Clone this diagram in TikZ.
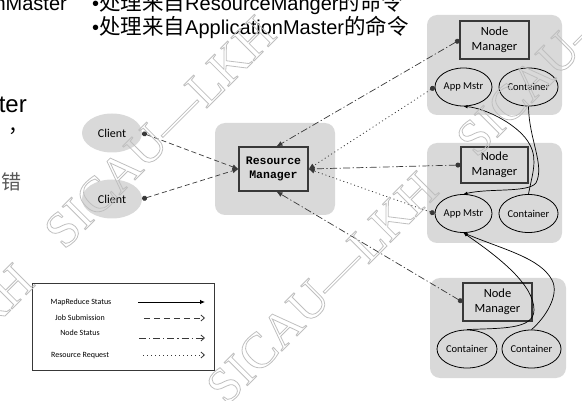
\documentclass[tikz,border=0pt]{standalone}
\usepackage{fontspec}
\setmainfont{Liberation Sans}
\newfontfamily\cjk{Noto Sans CJK SC}
\newfontfamily\calfont{Carlito}
\newfontfamily\rmmono{Liberation Mono}
\newfontfamily\wmfont{Liberation Serif}
\usetikzlibrary{arrows.meta,shapes.geometric}
\definecolor{panelgray}{HTML}{D9D9D9}
\definecolor{linegray}{HTML}{383838}
\newcommand\outlinetext[1]{\special{pdf:literal direct 1 Tr 0.8 w}#1\special{pdf:literal direct 0 Tr}}
\begin{document}
\begin{tikzpicture}[x=1pt,y=-1pt,
  panel/.style={fill=panelgray, rounded corners=10pt, inner sep=0},
  box/.style={draw=linegray, line width=1.1pt, fill=panelgray, inner sep=0},
  oval/.style={ellipse, draw=black, line width=0.8pt, fill=panelgray, inner sep=0, minimum width=57pt, minimum height=38pt, font=\calfont\fontsize{10.5}{12}\selectfont},
  client/.style={ellipse, fill=panelgray, inner sep=0, minimum width=60pt, minimum height=39pt, font=\calfont\fontsize{12}{14}\selectfont},
  nmtext/.style={font=\calfont\fontsize{12.5}{15}\selectfont, align=center},
  jobsub/.style={draw=linegray, line width=0.7pt, dash pattern=on 5pt off 3pt, {Circle[length=5pt]}-{Latex[length=6pt,width=5pt]}},
  nodestat/.style={draw=linegray, line width=0.7pt, dash pattern=on 7pt off 2.5pt on 1.2pt off 2.5pt, {Circle[length=5pt]}-{Latex[length=6pt,width=5pt]}},
  resreq/.style={draw=linegray, line width=0.8pt, dash pattern=on 1pt off 2.8pt, {Circle[length=5pt]}-{Latex[length=6pt,width=5pt]}},
  mrstat/.style={draw=black, line width=0.7pt, -{Latex[length=4pt,width=3.5pt]}},
  lgtext/.style={font=\calfont\fontsize{8}{9}\selectfont, inner sep=0},
  open/.style={-{Straight Barb[length=3.5pt,width=6pt]}},
  wm/.style={rotate=45, font=\wmfont\fontsize{50}{50}\selectfont, text=black!25, inner sep=0}
]
\useasboundingbox (0,0) rectangle (582,401);

% slide text
\node[anchor=base east, inner sep=0, font=\fontsize{20}{24}\selectfont] (t0) at (67,10.5) {nMaster};
\node[anchor=base west, inner sep=0, font=\fontsize{20}{24}\selectfont] (t1) at (92,10.5) {•{\cjk\fontsize{21.5}{24}\selectfont 处理来自}ResourceManger{\cjk\fontsize{21.5}{24}\selectfont 的命令}};
\node[anchor=base west, inner sep=0, font=\fontsize{20}{24}\selectfont] (t2) at (92,34.5) {•{\cjk\fontsize{21.5}{24}\selectfont 处理来自}ApplicationMaster{\cjk\fontsize{21.5}{24}\selectfont 的命令}};
\node[anchor=base east, inner sep=0, font=\fontsize{24}{28}\selectfont] (t3) at (27,113) {ter};
\node[anchor=base west, inner sep=0, font=\cjk\fontsize{20}{24}\selectfont] (t4) at (8,133) {，};
\node[anchor=base west, inner sep=0, text=black!65, font=\cjk\fontsize{20}{24}\selectfont] (t5) at (1,190) {错};

% clients
\node[client] (cl1) at (112,133) {Client};
\node[client] (cl2) at (112,199) {Client};

% resource manager
\node[panel, minimum width=120pt, minimum height=92pt] (rmp) at (275,169) {};
\node[box, minimum width=69pt, minimum height=44pt, align=center, font=\rmmono\bfseries\fontsize{11.5}{14}\selectfont] (rm) at (273.5,169) {Resource\\Manager};

% node 1
\node[panel, minimum width=135pt, minimum height=100pt] (p1) at (494.5,65) {};
\node[box, nmtext, minimum width=69pt, minimum height=38pt] (nm1) at (494.5,40) {Node\\Manager};
\node[oval] (am1) at (463.5,87) {App Mstr};
\node[oval] (c1) at (528.5,87) {Container};

% node 2
\node[panel, minimum width=135pt, minimum height=100pt] (p2) at (494.5,193) {};
\node[box, nmtext, minimum width=67pt, minimum height=36pt] (nm2) at (494.5,165) {Node\\Manager};
\node[oval] (am2) at (463.5,213.5) {App Mstr};
\node[oval] (c2) at (528.5,213.5) {Container};

% node 3
\node[panel, minimum width=136pt, minimum height=100pt] (p3) at (498,328) {};
\node[box, nmtext, minimum width=69pt, minimum height=38pt] (nm3) at (497.5,302) {Node\\Manager};
\node[oval, minimum width=60pt] (c3a) at (467,349) {Container};
\node[oval] (c3b) at (531.5,349) {Container};

% job submission
\draw[jobsub] (cl1.east) -- (rm.west);
\draw[jobsub] (cl2.east) -- (rm.west);

% node status
\draw[nodestat] (nm1.west) -- ([xshift=3pt]rm.north);
\draw[nodestat] (nm2.west) -- (rm.east);
\draw[nodestat] (nm3.west) -- ([xshift=3pt]rm.south);

% resource request
\draw[resreq] (am1.west) -- (rm.east);
\draw[resreq] (am2.west) -- (rm.east);

% mapreduce status
\draw[mrstat] (c1.south) .. controls (529,140) and (545,165) .. (536,183) .. controls (528,193) and (490,188) .. (am2.north);
\draw[mrstat] (c2.north) .. controls (532,175) and (538,160) .. (530,145) .. controls (520,125) and (485,108) .. (am1.south);
\draw[mrstat] (c3a.north) .. controls (500,328) and (534,330) .. (534,310) .. controls (534,285) and (500,258) .. (am2.south);
\draw[mrstat] (c3b.north) .. controls (545,318) and (560,295) .. (552,280) .. controls (540,258) and (505,250) .. (am2.south);

% legend
\node[draw=linegray, line width=0.8pt, minimum width=182pt, minimum height=87pt, inner sep=0] (lg) at (123,326.5) {};
\node[lgtext] (l1) at (81,302) {MapReduce Status};
\node[lgtext] (l2) at (80,318) {Job Submission};
\node[lgtext] (l3) at (80,333) {Node Status};
\node[lgtext] (l4) at (80,356) {Resource Request};
\coordinate (l1a) at (138,302); \coordinate (l1b) at (205,302);
\coordinate (l2a) at (144,318); \coordinate (l2b) at (205,318);
\coordinate (l3a) at (139,338); \coordinate (l3b) at (205,338);
\coordinate (l4a) at (143,355); \coordinate (l4b) at (205,355);
\draw[black, line width=0.8pt, -{Latex[length=5pt,width=4.5pt]}] (l1a) -- (l1b);
\draw[linegray, line width=0.8pt, dash pattern=on 6pt off 4pt, open] (l2a) -- (l2b);
\draw[linegray, line width=0.8pt, dash pattern=on 7pt off 3pt on 1.2pt off 3pt, open] (l3a) -- (l3b);
\draw[linegray, line width=0.8pt, dash pattern=on 1pt off 3pt, open] (l4a) -- (l4b);

% watermark
\node[wm] (w1) at (160,132) {\outlinetext{SICAU—LKH}};
\node[wm] (w2) at (322,288) {\outlinetext{SICAU—LKH}};
\node[wm] (w3) at (572,40) {\outlinetext{SICAU—LKH}};
\node[wm] (w4) at (-82,380) {\outlinetext{SICAU—LKH}};
\end{tikzpicture}
\end{document}
